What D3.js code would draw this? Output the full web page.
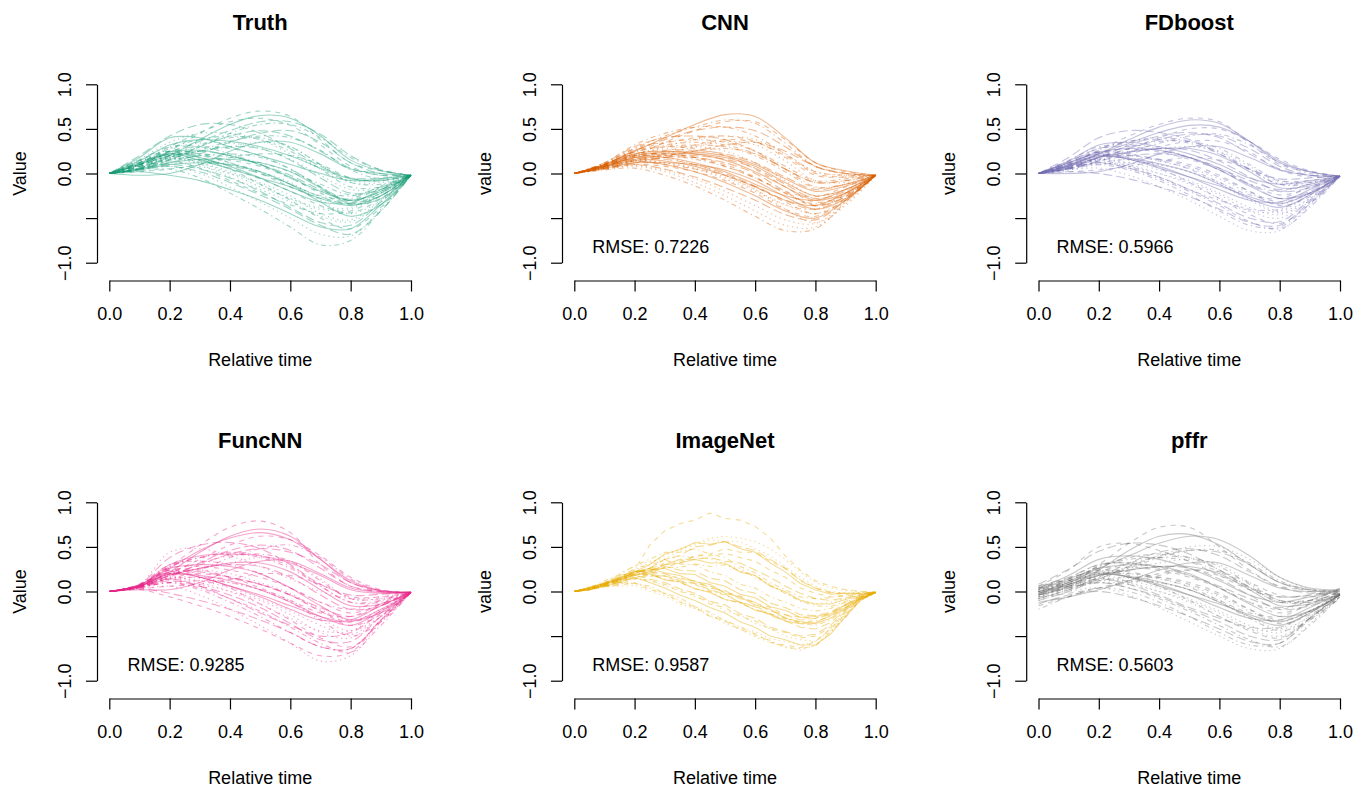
<!DOCTYPE html>
<html>
<head>
<meta charset="utf-8">
<script src="https://cdn.jsdelivr.net/npm/d3@7"></script>
<style>
  html, body { margin: 0; padding: 0; background: #fff; }
  svg { display: block; font-family: "Liberation Sans", Arial, Helvetica, sans-serif; }
</style>
</head>
<body>
<svg id="chart" width="1368" height="788"></svg>
<script>
// Evaluation grids (relative time)
const grid11 = [0, 0.1, 0.2, 0.3, 0.4, 0.5, 0.6, 0.7, 0.8, 0.9, 1.0];
const grid21 = [0, 0.05, 0.1, 0.15, 0.2, 0.25, 0.3, 0.35, 0.4, 0.45, 0.5, 0.55, 0.6, 0.65, 0.7, 0.75, 0.8, 0.85, 0.9, 0.95, 1.0];

// Tick labels
const xTicks = [0, 0.2, 0.4, 0.6, 0.8, 1.0];
const xTickLabels = ["0.0", "0.2", "0.4", "0.6", "0.8", "1.0"];
const yTicks = [1.0, 0.5, 0.0, -0.5, -1.0];
const yTickLabels = ["1.0", "0.5", "0.0", "", "\u22121.0"];

// Panel descriptors
const titles = ["Truth", "CNN", "FDboost", "FuncNN", "ImageNet", "pffr"];
const yLabels = ["Value", "value", "value", "Value", "value", "value"];
const rmseLabels = [null, "RMSE: 0.7226", "RMSE: 0.5966", "RMSE: 0.9285", "RMSE: 0.9587", "RMSE: 0.5603"];
const colors = ["#1B9E77", "#D95F02", "#7570B3", "#E7298A", "#E6AB02", "#666666"];

// Observed curves
const truthCurves = [
  [0, 0.10, 0.22, 0.18, 0.08, -0.05, -0.20, -0.32, -0.33, -0.18, -0.02],
  [0, 0.12, 0.25, 0.22, 0.12, 0.00, -0.15, -0.28, -0.30, -0.16, -0.02],
  [0, 0.08, 0.18, 0.12, 0.02, -0.12, -0.28, -0.40, -0.40, -0.22, -0.02],
  [0, 0.15, 0.30, 0.30, 0.22, 0.10, -0.05, -0.20, -0.25, -0.15, -0.02],
  [0, 0.05, 0.15, 0.30, 0.42, 0.48, 0.42, 0.25, 0.06, -0.02, -0.02],
  [0, 0.06, 0.20, 0.38, 0.55, 0.65, 0.62, 0.42, 0.15, 0.03, -0.02],
  [0, 0.08, 0.25, 0.45, 0.62, 0.70, 0.64, 0.38, 0.12, 0.03, -0.02],
  [0, 0.04, 0.08, 0.00, -0.15, -0.32, -0.50, -0.68, -0.70, -0.40, -0.02],
  [0, 0.03, 0.05, -0.05, -0.22, -0.40, -0.60, -0.80, -0.75, -0.42, -0.02],
  [0, 0.20, 0.42, 0.55, 0.55, 0.45, 0.28, 0.08, -0.05, -0.05, -0.02],
  [0, 0.18, 0.40, 0.40, 0.30, 0.20, 0.10, 0.00, -0.08, -0.06, -0.02],
  [0, 0.02, 0.05, 0.10, 0.18, 0.22, 0.20, 0.10, -0.05, -0.08, -0.02],
  [0, 0.10, 0.20, 0.25, 0.30, 0.35, 0.30, 0.10, -0.10, -0.10, -0.02],
  [0, 0.10, 0.20, 0.32, 0.40, 0.40, 0.30, 0.10, -0.10, -0.12, -0.02],
  [0, 0.05, 0.10, 0.05, -0.05, -0.20, -0.38, -0.55, -0.58, -0.32, -0.02],
  [0, 0.12, 0.22, 0.15, 0.05, -0.05, -0.15, -0.28, -0.36, -0.25, -0.02],
  [0, 0.08, 0.20, 0.20, 0.15, 0.08, -0.05, -0.22, -0.35, -0.25, -0.02],
  [0, 0.06, 0.12, 0.08, 0.00, -0.10, -0.25, -0.45, -0.52, -0.30, -0.02],
  [0, 0.10, 0.28, 0.38, 0.42, 0.38, 0.25, 0.05, -0.15, -0.15, -0.02],
  [0, 0.05, 0.18, 0.25, 0.30, 0.28, 0.15, -0.05, -0.22, -0.18, -0.02],
  [0, -0.02, 0.00, 0.10, 0.25, 0.35, 0.35, 0.22, 0.05, 0.00, -0.02],
  [0, 0.15, 0.25, 0.18, 0.05, -0.12, -0.30, -0.50, -0.62, -0.38, -0.02],
  [0, 0.08, 0.16, 0.15, 0.10, 0.02, -0.10, -0.30, -0.45, -0.30, -0.02],
  [0, 0.10, 0.22, 0.20, 0.12, 0.02, -0.12, -0.25, -0.28, -0.14, -0.02],
  [0, 0.05, 0.12, 0.22, 0.35, 0.45, 0.48, 0.35, 0.12, 0.00, -0.02],
  [0, 0.02, -0.02, -0.08, -0.18, -0.30, -0.45, -0.60, -0.62, -0.35, -0.02],
  [0, 0.12, 0.25, 0.30, 0.28, 0.20, 0.05, -0.15, -0.32, -0.25, -0.02],
  [0, 0.14, 0.20, 0.12, 0.00, -0.15, -0.28, -0.38, -0.38, -0.22, -0.02],
  [0, 0.06, 0.18, 0.30, 0.45, 0.55, 0.55, 0.40, 0.18, 0.04, -0.02],
  [0, 0.10, 0.22, 0.25, 0.20, 0.10, -0.02, -0.18, -0.30, -0.20, -0.02],
  [0, 0.04, 0.10, 0.12, 0.10, 0.02, -0.12, -0.32, -0.48, -0.35, -0.02],
  [0, 0.08, 0.14, 0.06, -0.08, -0.22, -0.35, -0.45, -0.42, -0.25, -0.02],
  [0, 0.16, 0.35, 0.45, 0.45, 0.38, 0.22, 0.05, -0.08, -0.08, -0.02],
  [0, 0.05, 0.15, 0.20, 0.22, 0.18, 0.05, -0.15, -0.30, -0.22, -0.02],
  [0, 0.09, 0.19, 0.16, 0.09, 0.00, -0.12, -0.26, -0.34, -0.22, -0.02],
  [0, 0.11, 0.24, 0.26, 0.20, 0.10, -0.04, -0.20, -0.30, -0.20, -0.02],
  [0, 0.07, 0.16, 0.14, 0.06, -0.06, -0.20, -0.36, -0.44, -0.28, -0.02],
  [0, 0.13, 0.28, 0.34, 0.34, 0.28, 0.16, -0.02, -0.18, -0.16, -0.02],
  [0, 0.06, 0.16, 0.26, 0.36, 0.42, 0.40, 0.26, 0.04, -0.06, -0.02],
  [0, 0.10, 0.24, 0.36, 0.48, 0.58, 0.58, 0.44, 0.20, 0.04, -0.02],
  [0, 0.05, 0.12, 0.16, 0.16, 0.12, 0.02, -0.16, -0.34, -0.28, -0.02],
  [0, 0.12, 0.30, 0.46, 0.58, 0.62, 0.54, 0.32, 0.08, -0.02, -0.02],
  [0, 0.08, 0.17, 0.10, -0.04, -0.18, -0.32, -0.48, -0.54, -0.32, -0.02],
  [0, 0.10, 0.20, 0.22, 0.18, 0.12, 0.02, -0.12, -0.24, -0.18, -0.02],
  [0, 0.04, 0.08, 0.02, -0.10, -0.24, -0.40, -0.58, -0.68, -0.42, -0.02],
  [0, 0.14, 0.32, 0.38, 0.36, 0.30, 0.20, 0.06, -0.06, -0.08, -0.02]
];

// CNN predictions
const cnnCurves = [
  [0, 0.08, 0.18, 0.18, 0.12, 0.02, -0.12, -0.25, -0.30, -0.18, -0.02],
  [0, 0.09, 0.20, 0.22, 0.18, 0.08, -0.05, -0.20, -0.26, -0.15, -0.02],
  [0, 0.07, 0.15, 0.12, 0.05, -0.06, -0.20, -0.35, -0.40, -0.24, -0.02],
  [0, 0.10, 0.25, 0.32, 0.35, 0.32, 0.22, 0.05, -0.10, -0.08, -0.02],
  [0, 0.10, 0.26, 0.38, 0.48, 0.52, 0.48, 0.30, 0.08, 0.00, -0.02],
  [0, 0.10, 0.25, 0.40, 0.55, 0.66, 0.64, 0.40, 0.12, 0.03, -0.02],
  [0, 0.08, 0.20, 0.35, 0.48, 0.58, 0.58, 0.38, 0.12, 0.02, -0.02],
  [0, 0.05, 0.08, 0.02, -0.10, -0.25, -0.42, -0.58, -0.60, -0.34, -0.02],
  [0, 0.04, 0.06, -0.02, -0.14, -0.30, -0.48, -0.64, -0.62, -0.32, -0.02],
  [0, 0.12, 0.30, 0.40, 0.42, 0.38, 0.25, 0.05, -0.10, -0.08, -0.02],
  [0, 0.08, 0.18, 0.22, 0.22, 0.18, 0.08, -0.10, -0.25, -0.18, -0.02],
  [0, 0.06, 0.12, 0.10, 0.05, -0.02, -0.15, -0.32, -0.45, -0.30, -0.02],
  [0, 0.09, 0.22, 0.28, 0.30, 0.25, 0.12, -0.08, -0.25, -0.18, -0.02],
  [0, 0.07, 0.15, 0.20, 0.25, 0.28, 0.22, 0.05, -0.15, -0.12, -0.02],
  [0, 0.06, 0.10, 0.05, -0.04, -0.16, -0.30, -0.46, -0.52, -0.30, -0.02],
  [0, 0.10, 0.22, 0.25, 0.22, 0.15, 0.02, -0.15, -0.30, -0.22, -0.02],
  [0, 0.08, 0.18, 0.25, 0.32, 0.38, 0.35, 0.20, 0.00, -0.04, -0.02],
  [0, 0.09, 0.20, 0.18, 0.10, -0.02, -0.18, -0.35, -0.45, -0.28, -0.02],
  [0, 0.11, 0.28, 0.35, 0.38, 0.35, 0.25, 0.08, -0.08, -0.06, -0.02],
  [0, 0.05, 0.12, 0.18, 0.25, 0.32, 0.35, 0.25, 0.08, 0.00, -0.02],
  [0, 0.08, 0.16, 0.14, 0.08, -0.02, -0.15, -0.30, -0.36, -0.22, -0.02],
  [0, 0.10, 0.24, 0.30, 0.28, 0.20, 0.05, -0.15, -0.32, -0.24, -0.02],
  [0, 0.07, 0.14, 0.12, 0.06, -0.04, -0.18, -0.40, -0.55, -0.36, -0.02],
  [0, 0.12, 0.32, 0.45, 0.52, 0.52, 0.42, 0.22, 0.02, -0.02, -0.02],
  [0, 0.06, 0.14, 0.18, 0.18, 0.12, 0.00, -0.20, -0.36, -0.26, -0.02],
  [0, 0.09, 0.20, 0.24, 0.24, 0.20, 0.10, -0.06, -0.20, -0.14, -0.02],
  [0, 0.05, 0.10, 0.08, 0.02, -0.08, -0.22, -0.40, -0.48, -0.28, -0.02],
  [0, 0.08, 0.20, 0.30, 0.38, 0.42, 0.38, 0.22, 0.02, -0.02, -0.02],
  [0, 0.08, 0.19, 0.20, 0.16, 0.08, -0.05, -0.22, -0.34, -0.22, -0.02],
  [0, 0.09, 0.22, 0.26, 0.26, 0.22, 0.12, -0.04, -0.18, -0.12, -0.02],
  [0, 0.07, 0.14, 0.10, 0.02, -0.10, -0.25, -0.42, -0.50, -0.30, -0.02],
  [0, 0.10, 0.26, 0.34, 0.40, 0.42, 0.36, 0.18, -0.02, -0.04, -0.02],
  [0, 0.06, 0.14, 0.22, 0.30, 0.36, 0.32, 0.14, -0.08, -0.10, -0.02],
  [0, 0.11, 0.28, 0.42, 0.52, 0.60, 0.56, 0.34, 0.08, 0.00, -0.02],
  [0, 0.08, 0.17, 0.16, 0.10, 0.00, -0.14, -0.30, -0.40, -0.26, -0.02],
  [0, 0.06, 0.12, 0.12, 0.10, 0.04, -0.08, -0.26, -0.40, -0.28, -0.02],
  [0, 0.09, 0.21, 0.22, 0.18, 0.10, -0.04, -0.22, -0.36, -0.24, -0.02],
  [0, 0.05, 0.09, 0.04, -0.06, -0.20, -0.36, -0.52, -0.56, -0.32, -0.02],
  [0, 0.10, 0.24, 0.30, 0.32, 0.30, 0.20, 0.02, -0.16, -0.12, -0.02],
  [0, 0.07, 0.16, 0.20, 0.20, 0.16, 0.06, -0.12, -0.28, -0.20, -0.02]
];

// FDboost predictions
const fdboostCurves = [
  [0, 0.10, 0.20, 0.16, 0.08, -0.04, -0.18, -0.30, -0.32, -0.18, -0.03],
  [0, 0.12, 0.24, 0.22, 0.15, 0.05, -0.10, -0.24, -0.28, -0.15, -0.03],
  [0, 0.08, 0.16, 0.10, 0.00, -0.12, -0.28, -0.42, -0.42, -0.24, -0.03],
  [0, 0.15, 0.30, 0.32, 0.28, 0.18, 0.04, -0.12, -0.20, -0.12, -0.03],
  [0, 0.06, 0.18, 0.32, 0.42, 0.46, 0.40, 0.22, 0.05, -0.02, -0.03],
  [0, 0.08, 0.22, 0.38, 0.52, 0.60, 0.56, 0.36, 0.12, 0.02, -0.03],
  [0, 0.10, 0.26, 0.42, 0.55, 0.62, 0.58, 0.34, 0.10, 0.02, -0.03],
  [0, 0.04, 0.06, -0.02, -0.15, -0.30, -0.48, -0.64, -0.64, -0.36, -0.03],
  [0, 0.05, 0.10, 0.04, -0.08, -0.24, -0.42, -0.58, -0.60, -0.34, -0.03],
  [0, 0.18, 0.40, 0.48, 0.46, 0.38, 0.22, 0.05, -0.06, -0.05, -0.03],
  [0, 0.14, 0.32, 0.35, 0.30, 0.22, 0.10, -0.05, -0.12, -0.08, -0.03],
  [0, 0.02, 0.04, 0.08, 0.14, 0.18, 0.15, 0.05, -0.08, -0.08, -0.03],
  [0, 0.10, 0.20, 0.25, 0.28, 0.30, 0.25, 0.08, -0.10, -0.10, -0.03],
  [0, 0.10, 0.22, 0.30, 0.36, 0.36, 0.28, 0.10, -0.08, -0.10, -0.03],
  [0, 0.06, 0.12, 0.06, -0.04, -0.18, -0.34, -0.50, -0.54, -0.30, -0.03],
  [0, 0.12, 0.22, 0.16, 0.06, -0.04, -0.14, -0.26, -0.34, -0.22, -0.03],
  [0, 0.08, 0.18, 0.20, 0.16, 0.08, -0.04, -0.20, -0.32, -0.22, -0.03],
  [0, 0.06, 0.12, 0.08, 0.00, -0.10, -0.24, -0.42, -0.50, -0.30, -0.03],
  [0, 0.10, 0.26, 0.36, 0.40, 0.36, 0.24, 0.05, -0.12, -0.12, -0.03],
  [0, 0.06, 0.18, 0.24, 0.28, 0.26, 0.14, -0.04, -0.20, -0.16, -0.03],
  [0, 0.00, 0.02, 0.10, 0.22, 0.30, 0.30, 0.18, 0.04, -0.02, -0.03],
  [0, 0.14, 0.24, 0.18, 0.06, -0.10, -0.28, -0.46, -0.56, -0.34, -0.03],
  [0, 0.08, 0.16, 0.15, 0.10, 0.02, -0.10, -0.28, -0.42, -0.28, -0.03],
  [0, 0.05, 0.14, 0.24, 0.34, 0.42, 0.44, 0.32, 0.12, 0.00, -0.03],
  [0, 0.02, 0.00, -0.06, -0.15, -0.26, -0.40, -0.55, -0.58, -0.32, -0.03],
  [0, 0.12, 0.24, 0.28, 0.26, 0.18, 0.04, -0.14, -0.28, -0.22, -0.03],
  [0, 0.06, 0.18, 0.28, 0.40, 0.50, 0.50, 0.36, 0.16, 0.03, -0.03],
  [0, 0.04, 0.10, 0.12, 0.10, 0.02, -0.12, -0.30, -0.44, -0.32, -0.03],
  [0, 0.08, 0.14, 0.08, -0.04, -0.18, -0.30, -0.40, -0.40, -0.24, -0.03],
  [0, 0.05, 0.14, 0.20, 0.22, 0.18, 0.06, -0.12, -0.28, -0.20, -0.03],
  [0, 0.09, 0.19, 0.17, 0.11, 0.02, -0.12, -0.28, -0.38, -0.24, -0.03],
  [0, 0.11, 0.24, 0.27, 0.24, 0.16, 0.04, -0.12, -0.24, -0.16, -0.03],
  [0, 0.07, 0.15, 0.12, 0.04, -0.08, -0.22, -0.38, -0.46, -0.28, -0.03],
  [0, 0.12, 0.28, 0.36, 0.38, 0.34, 0.22, 0.04, -0.12, -0.10, -0.03],
  [0, 0.07, 0.18, 0.28, 0.38, 0.44, 0.42, 0.28, 0.08, -0.02, -0.03],
  [0, 0.09, 0.22, 0.34, 0.46, 0.54, 0.52, 0.36, 0.14, 0.02, -0.03],
  [0, 0.05, 0.12, 0.16, 0.16, 0.10, -0.02, -0.20, -0.36, -0.26, -0.03],
  [0, 0.10, 0.20, 0.20, 0.14, 0.06, -0.06, -0.22, -0.34, -0.22, -0.03],
  [0, 0.06, 0.12, 0.06, -0.06, -0.20, -0.36, -0.54, -0.62, -0.38, -0.03],
  [0, 0.13, 0.28, 0.30, 0.26, 0.18, 0.06, -0.08, -0.18, -0.12, -0.03],
  [0, 0.08, 0.18, 0.24, 0.28, 0.28, 0.20, 0.02, -0.16, -0.14, -0.03],
  [0, 0.06, 0.16, 0.22, 0.30, 0.36, 0.36, 0.24, 0.04, -0.04, -0.03]
];

// FuncNN predictions
const funcnnCurves = [
  [0, 0.06, 0.20, 0.16, 0.06, -0.06, -0.20, -0.32, -0.32, -0.16, -0.01],
  [0, 0.07, 0.24, 0.24, 0.16, 0.04, -0.10, -0.24, -0.28, -0.14, -0.01],
  [0, 0.05, 0.16, 0.10, 0.00, -0.14, -0.30, -0.44, -0.44, -0.22, -0.01],
  [0, 0.08, 0.30, 0.34, 0.30, 0.20, 0.04, -0.12, -0.20, -0.10, -0.01],
  [0, 0.05, 0.16, 0.32, 0.46, 0.52, 0.46, 0.26, 0.06, 0.00, -0.01],
  [0, 0.06, 0.22, 0.44, 0.62, 0.70, 0.62, 0.36, 0.10, 0.01, -0.01],
  [0, 0.08, 0.28, 0.52, 0.72, 0.79, 0.66, 0.30, 0.06, 0.00, -0.01],
  [0, 0.03, 0.06, -0.04, -0.20, -0.38, -0.58, -0.78, -0.72, -0.34, -0.01],
  [0, 0.04, 0.10, 0.02, -0.12, -0.28, -0.46, -0.62, -0.64, -0.32, -0.01],
  [0, 0.08, 0.38, 0.52, 0.55, 0.48, 0.30, 0.08, -0.04, -0.03, -0.01],
  [0, 0.07, 0.30, 0.40, 0.42, 0.40, 0.32, 0.18, 0.02, -0.02, -0.01],
  [0, 0.03, 0.06, 0.08, 0.14, 0.20, 0.18, 0.08, -0.06, -0.06, -0.01],
  [0, 0.06, 0.20, 0.26, 0.32, 0.38, 0.34, 0.14, -0.08, -0.08, -0.01],
  [0, 0.06, 0.22, 0.32, 0.40, 0.42, 0.34, 0.12, -0.08, -0.08, -0.01],
  [0, 0.04, 0.12, 0.06, -0.04, -0.18, -0.36, -0.54, -0.56, -0.28, -0.01],
  [0, 0.07, 0.22, 0.16, 0.06, -0.04, -0.16, -0.28, -0.34, -0.20, -0.01],
  [0, 0.06, 0.20, 0.20, 0.16, 0.08, -0.04, -0.22, -0.34, -0.22, -0.01],
  [0, 0.05, 0.14, 0.08, 0.00, -0.10, -0.26, -0.46, -0.52, -0.28, -0.01],
  [0, 0.07, 0.28, 0.38, 0.44, 0.40, 0.28, 0.06, -0.12, -0.12, -0.01],
  [0, 0.05, 0.18, 0.26, 0.30, 0.28, 0.16, -0.04, -0.20, -0.16, -0.01],
  [0, 0.02, 0.02, 0.10, 0.24, 0.34, 0.34, 0.20, 0.04, -0.01, -0.01],
  [0, 0.06, 0.24, 0.18, 0.04, -0.14, -0.32, -0.52, -0.62, -0.34, -0.01],
  [0, 0.06, 0.16, 0.15, 0.10, 0.02, -0.10, -0.30, -0.44, -0.28, -0.01],
  [0, 0.05, 0.14, 0.24, 0.38, 0.48, 0.52, 0.38, 0.14, 0.01, -0.01],
  [0, 0.03, -0.02, -0.10, -0.20, -0.32, -0.46, -0.62, -0.64, -0.32, -0.01],
  [0, 0.07, 0.26, 0.30, 0.28, 0.20, 0.04, -0.16, -0.32, -0.24, -0.01],
  [0, 0.06, 0.20, 0.36, 0.52, 0.62, 0.58, 0.40, 0.16, 0.02, -0.01],
  [0, 0.06, 0.20, 0.24, 0.20, 0.10, -0.02, -0.20, -0.32, -0.20, -0.01],
  [0, 0.05, 0.10, 0.12, 0.10, 0.02, -0.12, -0.32, -0.50, -0.34, -0.01],
  [0, 0.05, 0.14, 0.06, -0.08, -0.24, -0.38, -0.50, -0.46, -0.24, -0.01],
  [0, 0.06, 0.19, 0.18, 0.12, 0.02, -0.12, -0.28, -0.38, -0.22, -0.01],
  [0, 0.07, 0.26, 0.28, 0.24, 0.16, 0.04, -0.12, -0.24, -0.14, -0.01],
  [0, 0.05, 0.15, 0.12, 0.04, -0.08, -0.22, -0.38, -0.48, -0.28, -0.01],
  [0, 0.07, 0.28, 0.38, 0.42, 0.38, 0.26, 0.06, -0.12, -0.10, -0.01],
  [0, 0.05, 0.18, 0.30, 0.42, 0.48, 0.44, 0.30, 0.10, 0.00, -0.01],
  [0, 0.06, 0.26, 0.46, 0.60, 0.66, 0.58, 0.36, 0.12, 0.01, -0.01],
  [0, 0.05, 0.14, 0.16, 0.14, 0.08, -0.04, -0.22, -0.38, -0.26, -0.01],
  [0, 0.08, 0.44, 0.48, 0.40, 0.28, 0.14, 0.00, -0.08, -0.06, -0.01],
  [0, 0.04, 0.10, 0.04, -0.08, -0.22, -0.40, -0.58, -0.68, -0.38, -0.01],
  [0, 0.06, 0.22, 0.22, 0.16, 0.08, -0.04, -0.18, -0.28, -0.16, -0.01],
  [0, 0.06, 0.18, 0.26, 0.32, 0.32, 0.22, 0.02, -0.16, -0.14, -0.01],
  [0, 0.02, -0.06, -0.16, -0.28, -0.42, -0.58, -0.72, -0.68, -0.32, -0.01]
];

// ImageNet predictions (finer grid, noisy)
const imagenetCurves = [
  [0, 0.04, 0.08, 0.16, 0.19, 0.20, 0.13, 0.11, 0.03, -0.01, -0.09, -0.12, -0.21, -0.25, -0.33, -0.36, -0.35, -0.27, -0.18, -0.07, -0.01],
  [0, 0.03, 0.08, 0.15, 0.24, 0.52, 0.68, 0.76, 0.80, 0.88, 0.82, 0.80, 0.73, 0.60, 0.40, 0.24, 0.12, 0.06, 0.02, 0.00, 0.00],
  [0, 0.02, 0.07, 0.12, 0.18, 0.26, 0.36, 0.46, 0.54, 0.60, 0.62, 0.60, 0.56, 0.48, 0.36, 0.22, 0.10, 0.04, 0.01, 0.00, -0.01],
  [0, 0.03, 0.05, 0.10, 0.09, 0.06, -0.02, -0.07, -0.17, -0.23, -0.33, -0.39, -0.49, -0.55, -0.63, -0.64, -0.61, -0.45, -0.29, -0.09, -0.01],
  [0, 0.04, 0.07, 0.14, 0.21, 0.26, 0.36, 0.40, 0.50, 0.52, 0.56, 0.50, 0.46, 0.36, 0.26, 0.12, 0.04, -0.01, -0.02, -0.02, -0.01],
  [0, 0.03, 0.09, 0.13, 0.22, 0.24, 0.26, 0.20, 0.19, 0.10, 0.06, -0.03, -0.07, -0.17, -0.21, -0.29, -0.28, -0.25, -0.15, -0.07, -0.01],
  [0, 0.02, 0.06, 0.07, 0.10, 0.02, -0.02, -0.12, -0.17, -0.28, -0.33, -0.43, -0.47, -0.57, -0.60, -0.63, -0.56, -0.42, -0.25, -0.09, -0.01],
  [0, 0.05, 0.10, 0.20, 0.28, 0.34, 0.36, 0.40, 0.38, 0.37, 0.30, 0.26, 0.15, 0.08, -0.02, -0.09, -0.14, -0.12, -0.08, -0.04, -0.01],
  [0, 0.03, 0.09, 0.12, 0.21, 0.22, 0.27, 0.27, 0.31, 0.28, 0.30, 0.23, 0.18, 0.07, -0.02, -0.11, -0.16, -0.17, -0.11, -0.05, -0.01],
  [0, 0.02, 0.07, 0.14, 0.18, 0.14, 0.10, 0.03, -0.02, -0.11, -0.15, -0.25, -0.30, -0.40, -0.45, -0.50, -0.48, -0.38, -0.22, -0.08, -0.01],
  [0, 0.05, 0.09, 0.18, 0.22, 0.26, 0.21, 0.18, 0.11, 0.08, -0.02, -0.06, -0.15, -0.20, -0.30, -0.34, -0.36, -0.30, -0.19, -0.08, -0.01],
  [0, 0.02, 0.06, 0.08, 0.14, 0.20, 0.27, 0.32, 0.40, 0.42, 0.48, 0.44, 0.44, 0.34, 0.26, 0.13, 0.04, -0.02, -0.03, -0.02, -0.01],
  [0, 0.04, 0.07, 0.13, 0.14, 0.13, 0.06, 0.02, -0.06, -0.11, -0.22, -0.26, -0.36, -0.42, -0.50, -0.54, -0.56, -0.44, -0.26, -0.09, -0.01],
  [0, 0.03, 0.10, 0.15, 0.26, 0.30, 0.35, 0.31, 0.30, 0.22, 0.18, 0.08, 0.04, -0.06, -0.12, -0.19, -0.22, -0.19, -0.12, -0.05, -0.01],
  [0, 0.02, 0.07, 0.10, 0.16, 0.17, 0.18, 0.12, 0.09, 0.02, -0.03, -0.12, -0.17, -0.27, -0.33, -0.40, -0.42, -0.35, -0.21, -0.08, -0.01],
  [0, 0.04, 0.09, 0.14, 0.22, 0.30, 0.42, 0.47, 0.55, 0.53, 0.56, 0.48, 0.44, 0.32, 0.22, 0.09, 0.02, -0.03, -0.02, -0.02, -0.01],
  [0, 0.03, 0.07, 0.14, 0.18, 0.21, 0.17, 0.16, 0.09, 0.06, -0.01, -0.05, -0.13, -0.18, -0.26, -0.29, -0.30, -0.24, -0.15, -0.06, -0.01],
  [0, 0.02, 0.05, 0.06, 0.07, 0.00, -0.05, -0.14, -0.19, -0.28, -0.32, -0.41, -0.45, -0.53, -0.56, -0.60, -0.56, -0.42, -0.26, -0.10, -0.01],
  [0, 0.04, 0.12, 0.19, 0.29, 0.36, 0.44, 0.44, 0.48, 0.42, 0.38, 0.28, 0.21, 0.10, 0.02, -0.06, -0.08, -0.07, -0.04, -0.03, -0.01],
  [0, 0.03, 0.09, 0.14, 0.22, 0.24, 0.28, 0.24, 0.23, 0.15, 0.12, 0.02, -0.02, -0.13, -0.18, -0.26, -0.27, -0.23, -0.14, -0.06, -0.01],
  [0, 0.02, 0.06, 0.10, 0.16, 0.10, 0.04, -0.04, -0.10, -0.18, -0.24, -0.34, -0.40, -0.50, -0.54, -0.60, -0.60, -0.48, -0.28, -0.10, -0.01],
  [0, 0.03, 0.07, 0.12, 0.20, 0.23, 0.32, 0.34, 0.40, 0.40, 0.43, 0.38, 0.34, 0.24, 0.16, 0.04, -0.02, -0.06, -0.05, -0.03, -0.01],
  [0, 0.03, 0.05, 0.09, 0.09, 0.04, -0.03, -0.10, -0.19, -0.25, -0.36, -0.42, -0.51, -0.57, -0.62, -0.66, -0.60, -0.46, -0.28, -0.10, -0.01],
  [0, 0.04, 0.08, 0.15, 0.20, 0.19, 0.14, 0.10, 0.03, 0.00, -0.09, -0.13, -0.20, -0.26, -0.31, -0.34, -0.33, -0.28, -0.18, -0.08, -0.01],
  [0, 0.04, 0.10, 0.16, 0.23, 0.22, 0.20, 0.14, 0.12, 0.04, 0.01, -0.08, -0.12, -0.22, -0.26, -0.32, -0.30, -0.26, -0.16, -0.06, -0.01],
  [0, 0.02, 0.08, 0.12, 0.18, 0.22, 0.30, 0.32, 0.36, 0.32, 0.32, 0.22, 0.18, 0.06, 0.00, -0.10, -0.14, -0.14, -0.09, -0.04, -0.01],
  [0, 0.03, 0.06, 0.12, 0.15, 0.12, 0.08, 0.00, -0.04, -0.14, -0.18, -0.28, -0.33, -0.42, -0.46, -0.52, -0.50, -0.40, -0.24, -0.08, -0.01],
  [0, 0.04, 0.08, 0.16, 0.24, 0.32, 0.40, 0.48, 0.52, 0.58, 0.56, 0.56, 0.48, 0.40, 0.28, 0.16, 0.06, 0.00, -0.02, -0.01, -0.01],
  [0, 0.03, 0.08, 0.14, 0.19, 0.18, 0.17, 0.11, 0.08, 0.01, -0.04, -0.12, -0.16, -0.25, -0.29, -0.36, -0.38, -0.32, -0.20, -0.08, -0.01],
  [0, 0.02, 0.07, 0.11, 0.20, 0.26, 0.30, 0.36, 0.36, 0.38, 0.34, 0.32, 0.24, 0.16, 0.06, -0.02, -0.08, -0.10, -0.07, -0.04, -0.01]
];

// pffr predictions
const pffrCurves = [
  [-0.02, 0.10, 0.20, 0.16, 0.08, -0.04, -0.18, -0.30, -0.32, -0.18, -0.02],
  [0.02, 0.12, 0.24, 0.22, 0.15, 0.05, -0.10, -0.24, -0.28, -0.14, 0.00],
  [-0.05, 0.05, 0.15, 0.10, 0.00, -0.12, -0.28, -0.42, -0.42, -0.22, -0.04],
  [0.05, 0.15, 0.30, 0.32, 0.28, 0.18, 0.04, -0.12, -0.20, -0.10, 0.02],
  [-0.08, 0.02, 0.16, 0.32, 0.44, 0.48, 0.40, 0.22, 0.05, -0.02, -0.04],
  [-0.04, 0.06, 0.24, 0.46, 0.62, 0.64, 0.52, 0.30, 0.10, 0.02, -0.02],
  [0.00, 0.08, 0.30, 0.54, 0.72, 0.72, 0.50, 0.24, 0.06, 0.02, 0.00],
  [-0.10, 0.00, 0.04, -0.04, -0.18, -0.34, -0.50, -0.64, -0.64, -0.36, -0.06],
  [-0.20, -0.06, 0.04, 0.00, -0.12, -0.28, -0.46, -0.60, -0.58, -0.32, -0.08],
  [0.08, 0.25, 0.45, 0.54, 0.52, 0.42, 0.24, 0.05, -0.06, -0.04, 0.02],
  [0.04, 0.18, 0.36, 0.40, 0.36, 0.26, 0.12, -0.04, -0.12, -0.06, 0.00],
  [-0.06, -0.02, 0.04, 0.10, 0.18, 0.24, 0.22, 0.10, -0.04, -0.06, -0.02],
  [0.00, 0.10, 0.20, 0.26, 0.32, 0.36, 0.30, 0.10, -0.10, -0.10, -0.04],
  [0.02, 0.10, 0.22, 0.32, 0.38, 0.38, 0.28, 0.08, -0.10, -0.12, -0.04],
  [-0.04, 0.04, 0.10, 0.04, -0.06, -0.20, -0.34, -0.50, -0.54, -0.30, -0.04],
  [0.03, 0.12, 0.22, 0.16, 0.06, -0.04, -0.14, -0.26, -0.34, -0.22, -0.03],
  [0.00, 0.08, 0.18, 0.20, 0.16, 0.08, -0.04, -0.20, -0.32, -0.22, -0.04],
  [-0.08, 0.02, 0.10, 0.08, 0.00, -0.10, -0.24, -0.42, -0.50, -0.30, -0.06],
  [0.00, 0.12, 0.28, 0.38, 0.42, 0.38, 0.24, 0.05, -0.12, -0.12, -0.04],
  [-0.02, 0.06, 0.18, 0.24, 0.28, 0.26, 0.14, -0.04, -0.20, -0.16, -0.04],
  [-0.12, -0.06, 0.02, 0.12, 0.24, 0.32, 0.32, 0.18, 0.04, 0.00, 0.02],
  [0.04, 0.14, 0.24, 0.18, 0.06, -0.10, -0.28, -0.44, -0.52, -0.30, -0.02],
  [0.00, 0.08, 0.16, 0.15, 0.10, 0.02, -0.10, -0.28, -0.42, -0.28, -0.02],
  [-0.06, 0.04, 0.14, 0.26, 0.38, 0.46, 0.46, 0.32, 0.12, 0.02, 0.00],
  [-0.14, -0.04, 0.00, -0.06, -0.16, -0.28, -0.42, -0.56, -0.58, -0.30, -0.06],
  [0.03, 0.14, 0.26, 0.30, 0.28, 0.20, 0.04, -0.14, -0.28, -0.22, -0.04],
  [0.06, 0.24, 0.50, 0.54, 0.46, 0.34, 0.18, 0.02, -0.06, -0.04, 0.02],
  [-0.02, 0.06, 0.18, 0.28, 0.40, 0.50, 0.50, 0.36, 0.16, 0.03, 0.00],
  [0.00, 0.06, 0.12, 0.12, 0.10, 0.02, -0.12, -0.30, -0.44, -0.32, -0.06],
  [-0.04, 0.06, 0.14, 0.08, -0.04, -0.18, -0.30, -0.40, -0.40, -0.24, -0.04],
  [-0.03, 0.08, 0.19, 0.17, 0.11, 0.02, -0.12, -0.28, -0.38, -0.24, -0.04],
  [0.04, 0.14, 0.26, 0.27, 0.24, 0.16, 0.04, -0.12, -0.24, -0.14, 0.01],
  [-0.06, 0.04, 0.14, 0.12, 0.04, -0.08, -0.22, -0.38, -0.46, -0.28, -0.05],
  [0.02, 0.12, 0.28, 0.36, 0.38, 0.34, 0.22, 0.04, -0.12, -0.10, -0.02],
  [-0.10, 0.00, 0.14, 0.28, 0.40, 0.46, 0.44, 0.30, 0.10, 0.00, -0.03],
  [0.00, 0.10, 0.26, 0.40, 0.54, 0.62, 0.58, 0.40, 0.16, 0.04, 0.02],
  [-0.04, 0.04, 0.12, 0.16, 0.16, 0.10, -0.02, -0.20, -0.36, -0.26, -0.05],
  [0.02, 0.10, 0.20, 0.20, 0.14, 0.06, -0.06, -0.22, -0.34, -0.22, -0.02],
  [-0.08, 0.02, 0.10, 0.04, -0.08, -0.22, -0.38, -0.54, -0.62, -0.38, -0.06],
  [0.06, 0.16, 0.30, 0.32, 0.26, 0.18, 0.06, -0.08, -0.18, -0.10, 0.04],
  [-0.02, 0.08, 0.18, 0.24, 0.28, 0.28, 0.20, 0.02, -0.16, -0.14, -0.03],
  [-0.16, -0.06, 0.04, 0.12, 0.20, 0.24, 0.18, 0.04, -0.10, -0.10, -0.04]
];

const panelCurves = [truthCurves, cnnCurves, fdboostCurves, funcnnCurves, imagenetCurves, pffrCurves];
const panelGrids = [grid11, grid11, grid11, grid11, grid21, grid11];

// R-style line types cycled over the curves: solid, dashed, dotted, dotdash, longdash
const lineTypes = [null, "5,5", "1.3,3.5", "1.3,3.5,5,3.5", "9,4"];

// Layout of the 2 x 3 grid
const colX0 = [109.3, 574.3, 1038.5];
const colX1 = [411, 875.7, 1340];
const rowTop = [84.3, 502.3];     // pixel of value 1.0
const rowBottom = [262.7, 680.7]; // pixel of value -1.0
const rowAxis = [280.5, 698.5];   // x-axis line
const rowTitle = [30, 448];       // title baseline

const svg = d3.select("#chart");
const fontSize = 18;

panelCurves.forEach((curves, p) => {
  const col = p % 3, row = Math.floor(p / 3);
  const x = d3.scaleLinear().domain([0, 1]).range([colX0[col], colX1[col]]);
  const y = d3.scaleLinear().domain([-1, 1]).range([rowBottom[row], rowTop[row]]);
  const yAxisX = colX0[col] - 12.3;
  const g = svg.append("g");
  const grid = panelGrids[p];

  const line = d3.line()
    .x((d, i) => x(grid[i]))
    .y(d => y(d))
    .curve(p === 4 ? d3.curveLinear : d3.curveCatmullRom.alpha(0.5));

  g.append("g").selectAll("path")
    .data(curves)
    .join("path")
    .attr("d", line)
    .attr("fill", "none")
    .attr("stroke", colors[p])
    .attr("stroke-opacity", p === 5 ? 0.36 : 0.42)
    .attr("stroke-width", 1.1)
    .attr("stroke-dasharray", (d, i) => lineTypes[i % lineTypes.length]);

  // x axis
  const xAxis = d3.axisBottom(x)
    .tickValues(xTicks)
    .tickFormat((d, i) => xTickLabels[i])
    .tickSize(11)
    .tickPadding(15.5)
    .tickSizeOuter(0);
  const gx = g.append("g")
    .attr("transform", `translate(0,${rowAxis[row]})`)
    .call(xAxis);
  gx.select(".domain").attr("stroke", "#000").attr("stroke-width", 1.2);
  gx.selectAll(".tick line").attr("stroke", "#000").attr("stroke-width", 1.2);
  gx.selectAll("text").attr("font-size", fontSize).attr("fill", "#000").attr("font-family", null);

  // y axis with labels parallel to the axis
  const yAxis = d3.axisLeft(y)
    .tickValues(yTicks)
    .tickFormat((d, i) => yTickLabels[i])
    .tickSize(11)
    .tickSizeOuter(0);
  const gy = g.append("g")
    .attr("transform", `translate(${yAxisX},0)`)
    .call(yAxis);
  gy.select(".domain").attr("stroke", "#000").attr("stroke-width", 1.2);
  gy.selectAll(".tick line").attr("stroke", "#000").attr("stroke-width", 1.2);
  gy.selectAll("text")
    .attr("x", null).attr("dy", null)
    .attr("text-anchor", "middle")
    .attr("transform", "translate(-26.5,0) rotate(-90)")
    .attr("font-size", fontSize).attr("fill", "#000").attr("font-family", null);

  // title
  g.append("text")
    .attr("x", (colX0[col] + colX1[col]) / 2)
    .attr("y", rowTitle[row])
    .attr("text-anchor", "middle")
    .attr("font-weight", "bold")
    .attr("font-size", 22)
    .text(titles[p]);

  // axis titles
  g.append("text")
    .attr("x", (colX0[col] + colX1[col]) / 2)
    .attr("y", rowAxis[row] + 85)
    .attr("text-anchor", "middle")
    .attr("font-size", fontSize)
    .text("Relative time");

  g.append("text")
    .attr("transform", `translate(${yAxisX - 71},${y(0)}) rotate(-90)`)
    .attr("text-anchor", "middle")
    .attr("font-size", fontSize)
    .text(yLabels[p]);

  if (rmseLabels[p]) {
    g.append("text")
      .attr("x", x(0.254))
      .attr("y", y(-0.82) + 6.5)
      .attr("text-anchor", "middle")
      .attr("font-size", fontSize)
      .text(rmseLabels[p]);
  }
});
</script>
</body>
</html>
